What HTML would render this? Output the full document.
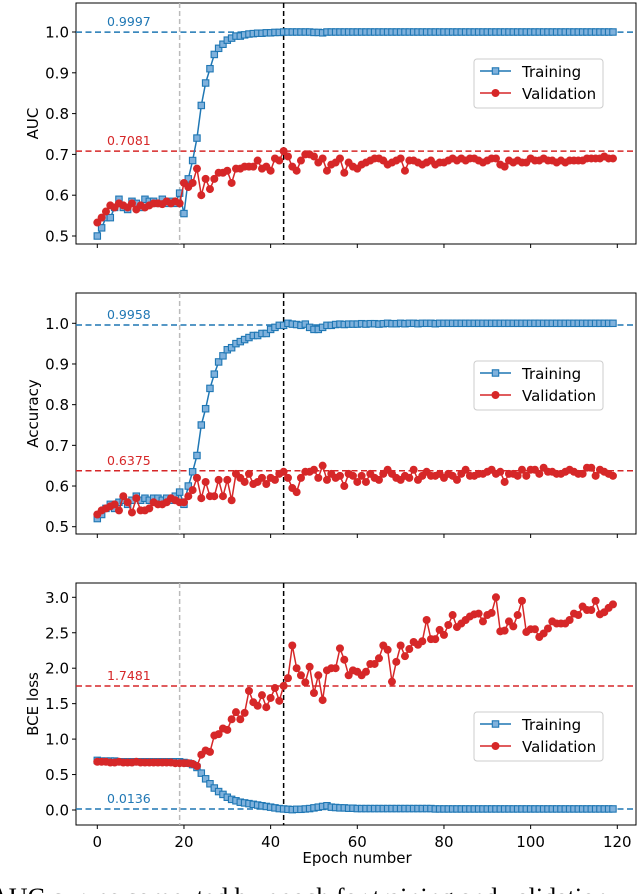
<!DOCTYPE html>
<html><head><meta charset="utf-8">
<style>
html,body{margin:0;padding:0;background:#fff;}
svg{display:block;font-family:"DejaVu Sans","Liberation Sans",sans-serif;}
</style></head>
<body>
<svg id="chart" width="640" height="894" viewBox="0 0 640 894" xmlns="http://www.w3.org/2000/svg">
<text x="-10" y="906" font-family="Liberation Serif, serif" font-size="26" fill="#000">AUC curves computed by epoch for training and validation</text>
</svg>
<script>
const epochs = Array.from({length:120},(_,i)=>i);
const aucTrain = [
.50,.52,.545,.545,.57,.59,.57,.565,.585,.58,.57,.59,.585,.585,.58,.59,.58,.585,.58,.605,
.555,.64,.685,.74,.82,.875,.91,.945,.96,.97,.98,.985,
.99,.99,.993,.995,.996,.997,.997,.998,.998,.999,.999,1.0,
1,1,1,1,1,1,.999,.999,.998,1,
1,1,1,1,1,1,1,1,1,1,
1,1,1,1,1,1,1,1,1,1,
1,1,1,1,1,1,1,1,1,1,
1,1,1,1,1,1,1,1,1,1,
1,1,1,1,1,1,1,1,1,1,
1,1,1,1,1,1,1,1,1,1,
1,1,1,1,1,1];
const aucVal = [
.533,.545,.56,.575,.57,.58,.575,.57,.58,.565,.575,.57,.575,.58,.58,.578,.585,.58,.585,.58,
.63,.62,.63,.665,.60,.64,.615,.64,.655,.655,.66,.63,.665,.665,.67,.67,.67,.685,.665,.67,.66,.69,.685,.708,
.695,.67,.66,.685,.70,.70,.695,.68,.69,.66,
.675,.68,.69,.655,.68,.67,.665,.675,.68,.685,
.69,.69,.685,.675,.68,.685,.69,.66,.685,.685,
.68,.675,.68,.685,.675,.68,.68,.685,.69,.685,
.69,.685,.69,.69,.685,.68,.685,.69,.69,.675,
.67,.685,.68,.685,.68,.68,.69,.685,.685,.69,
.685,.685,.68,.685,.68,.685,.685,.685,.685,.69,
.69,.69,.69,.695,.69,.69];
const accTrain = [
.52,.53,.545,.555,.545,.56,.565,.555,.565,.575,
.565,.57,.565,.57,.57,.565,.57,.565,.575,.585,
.555,.60,.635,.675,.75,.79,.84,.875,.905,.92,
.935,.94,.95,.955,.96,.965,.97,.97,.975,.975,
.985,.99,.995,.995,1.0,.998,.997,.995,.998,.99,
.985,.985,.99,.995,.995,.997,.998,.997,.998,.998,
.998,.999,.998,.999,.999,.998,.999,1,.999,.999,
1,.999,1,1,.999,1,1,1,.999,1,
1,1,1,1,1,1,1,1,1,1,
1,1,1,1,1,1,1,1,1,1,
1,1,1,1,1,1,1,1,1,1,
1,1,1,1,1,1,1,1,1,1];
const accVal = [
.53,.54,.545,.55,.555,.54,.575,.56,.535,.57,
.54,.54,.545,.56,.555,.555,.56,.57,.565,.56,
.56,.575,.59,.62,.57,.61,.575,.575,.615,.575,
.615,.565,.63,.62,.61,.63,.605,.61,.62,.605,
.62,.615,.63,.635,.62,.595,.585,.62,.635,.635,
.64,.62,.65,.615,.63,.62,.625,.60,.63,.625,
.61,.625,.61,.63,.62,.615,.63,.64,.63,.62,
.615,.625,.62,.64,.615,.625,.635,.625,.625,.63,
.62,.63,.625,.615,.63,.64,.625,.625,.63,.63,
.635,.64,.63,.635,.61,.63,.63,.625,.64,.625,
.64,.64,.63,.645,.635,.635,.63,.63,.635,.64,
.635,.63,.63,.645,.645,.625,.64,.635,.63,.625];
const bceTrain = [
.70,.69,.69,.69,.69,.68,.68,.68,.68,.68,
.68,.68,.68,.68,.68,.68,.68,.68,.68,.68,
.67,.66,.64,.60,.52,.44,.37,.31,.26,.22,
.18,.15,.13,.11,.10,.09,.08,.07,.06,.05,
.04,.03,.02,.015,.01,.005,.01,.01,.015,.02,
.03,.04,.05,.06,.04,.035,.03,.03,.025,.025,
.02,.02,.02,.02,.02,.02,.02,.02,.02,.02,
.02,.02,.02,.02,.02,.02,.02,.02,.015,.015,
.015,.015,.015,.015,.015,.015,.015,.015,.015,.015,
.015,.015,.015,.015,.015,.015,.015,.015,.015,.015,
.015,.015,.015,.015,.015,.015,.015,.015,.015,.015,
.015,.015,.015,.015,.015,.015,.015,.015,.015,.015];
const bceVal = [
.68,.68,.68,.67,.67,.68,.67,.67,.67,.68,.67,.67,.67,.67,.67,.67,.67,.67,.66,.66,.66,.66,.65,
.62,.78,.84,.82,1.05,1.07,1.15,1.13,1.28,1.38,1.28,1.37,1.68,1.52,1.47,1.62,1.45,1.58,1.72,1.54,1.75,1.86,2.32,2.0,1.9,1.8,2.02,
1.65,1.9,1.55,1.97,2.0,2.0,2.28,2.12,1.9,1.97,1.95,1.9,1.95,2.06,2.06,2.14,2.32,2.26,1.81,2.09,
2.32,2.17,2.27,2.37,2.33,2.38,2.68,2.41,2.41,2.54,2.47,2.61,2.75,2.58,2.63,2.68,2.73,2.76,2.77,2.66,
2.75,2.78,3.0,2.52,2.53,2.66,2.59,2.75,2.95,2.51,2.55,2.55,2.44,2.49,2.56,2.66,2.63,2.63,2.63,2.68,
2.77,2.75,2.87,2.82,2.82,2.95,2.76,2.79,2.85,2.9];
const aucTicks = [0.5,0.6,0.7,0.8,0.9,1.0];
const accTicks = [0.5,0.6,0.7,0.8,0.9,1.0];
const bceTicks = [0.0,0.5,1.0,1.5,2.0,2.5,3.0];
const xTicks = [0,20,40,60,80,100,120];
const refTrain = [0.9997, 0.9958, 0.0136];
const refVal = [0.7081, 0.6375, 1.7481];
const refLabelTrain = ["0.9997","0.9958","0.0136"];
const refLabelVal = ["0.7081","0.6375","1.7481"];
const earlyEpoch = 19;
const bestEpoch = 43;

const NS="http://www.w3.org/2000/svg";
const svg=document.getElementById('chart');
const BLUE="#1f77b4", RED="#d62728";
const XL=76, XR=636;
const SQ=6.4, CR=4;
const xs = e => 97.3 + e*4.3333;
function mk(tag,attrs,parent){const el=document.createElementNS(NS,tag);for(const k in attrs)el.setAttribute(k,attrs[k]);(parent||svg).appendChild(el);return el;}

const panels=[
 {name:'auc',top:3,bot:244,v0:1.0,p0:32,v1:0.5,p1:236,ticks:aucTicks,label:'AUC',tr:aucTrain,va:aucVal,leg:59},
 {name:'accuracy',top:293,bot:534,v0:1.0,p0:323.3,v1:0.5,p1:526.7,ticks:accTicks,label:'Accuracy',tr:accTrain,va:accVal,leg:361},
 {name:'bce-loss',top:583,bot:825,v0:3.0,p0:597.3,v1:0.0,p1:810,ticks:bceTicks,label:'BCE loss',tr:bceTrain,va:bceVal,leg:712}
];
panels.forEach((p,pi)=>{
 const ys=v=>p.p0+(v-p.v0)*(p.p1-p.p0)/(p.v1-p.v0);
 const g=mk('g',{});
 
 
 const frame=mk('rect',{x:XL,y:p.top,width:XR-XL,height:p.bot-p.top,fill:'none',stroke:'#000','stroke-width':1},g);
 
 
 p.ticks.forEach(t=>{
  const y=ys(t);
  const tk=mk('line',{x1:XL-4,x2:XL,y1:y,y2:y,stroke:'#000','stroke-width':1},g);
  
  
  const tl=mk('text',{x:XL-7,y:y+5.5,'text-anchor':'end','font-size':15,fill:'#000'},g);
  tl.textContent=t.toFixed(1);
  
  
 });
 xTicks.forEach(t=>{
  const x=xs(t);
  const tk=mk('line',{x1:x,x2:x,y1:p.bot,y2:p.bot+4,stroke:'#000','stroke-width':1},g);
  
  
  if(pi===2){
   const tl=mk('text',{x:x,y:p.bot+22,'text-anchor':'middle','font-size':15,fill:'#000'},g);
   tl.textContent=String(t);
   
   
  }
 });
 const cy=(p.top+p.bot)/2;
 const yl=mk('text',{x:38,y:cy,'text-anchor':'middle','font-size':15,fill:'#000',transform:`rotate(-90 38 ${cy})`},g);
 yl.textContent=p.label;
 
 
 const gl=mk('line',{x1:xs(earlyEpoch),x2:xs(earlyEpoch),y1:p.top,y2:p.bot,stroke:'#bbb','stroke-width':1.5,'stroke-dasharray':'5,3'},g);
 
 
 const bl=mk('line',{x1:xs(bestEpoch),x2:xs(bestEpoch),y1:p.top,y2:p.bot,stroke:'#000','stroke-width':1.5,'stroke-dasharray':'5,3'},g);
 
 
 [[refTrain[pi],refLabelTrain[pi],BLUE,'train'],[refVal[pi],refLabelVal[pi],RED,'val']].forEach(r=>{
  const y=ys(r[0]);
  const l=mk('line',{x1:XL,x2:XR,y1:y,y2:y,stroke:r[2],'stroke-width':1.5,'stroke-dasharray':'6,3.5'},g);
  
  
  const t=mk('text',{x:107,y:y-6,'font-size':12.5,fill:r[2]},g);
  t.textContent=r[1];
  
  
 });
 const trPts=p.tr.map((v,i)=>xs(epochs[i]).toFixed(2)+','+ys(v).toFixed(2)).join(' ');
 const trLine=mk('polyline',{points:trPts,fill:'none',stroke:BLUE,'stroke-width':1.5},g);
 
 
 p.tr.forEach((v,i)=>{
  const m=mk('rect',{x:xs(epochs[i])-SQ/2,y:ys(v)-SQ/2,width:SQ,height:SQ,fill:'#7fb1dc',stroke:BLUE,'stroke-width':1.1},g);
  
  
 });
 const vaPts=p.va.map((v,i)=>xs(epochs[i]).toFixed(2)+','+ys(v).toFixed(2)).join(' ');
 const vaLine=mk('polyline',{points:vaPts,fill:'none',stroke:RED,'stroke-width':1.5},g);
 
 
 p.va.forEach((v,i)=>{
  const m=mk('circle',{cx:xs(epochs[i]),cy:ys(v),r:CR,fill:RED},g);
  
  
 });
 const lg=mk('g',{},g);
 
 
 mk('rect',{x:474,y:p.leg,width:129,height:49,rx:3,fill:'#fff','fill-opacity':0.85,stroke:'#ccc','stroke-width':1},lg);
 const e1=mk('g',{},lg);
 
 
 mk('line',{x1:480,x2:511,y1:p.leg+12,y2:p.leg+12,stroke:BLUE,'stroke-width':1.5},e1);
 mk('rect',{x:495.5-SQ/2,y:p.leg+12-SQ/2,width:SQ,height:SQ,fill:'#7fb1dc',stroke:BLUE,'stroke-width':1.1},e1);
 const t1=mk('text',{x:522,y:p.leg+18,'font-size':15,fill:'#000'},e1);t1.textContent='Training';
 const e2=mk('g',{},lg);
 
 
 mk('line',{x1:480,x2:511,y1:p.leg+34,y2:p.leg+34,stroke:RED,'stroke-width':1.5},e2);
 mk('circle',{cx:495.5,cy:p.leg+34,r:CR,fill:RED},e2);
 const t2=mk('text',{x:522,y:p.leg+40,'font-size':15,fill:'#000'},e2);t2.textContent='Validation';
});
const xt=mk('text',{x:357,y:863,'text-anchor':'middle','font-size':15,fill:'#000'});
xt.textContent='Epoch number';


</script>
</body></html>
